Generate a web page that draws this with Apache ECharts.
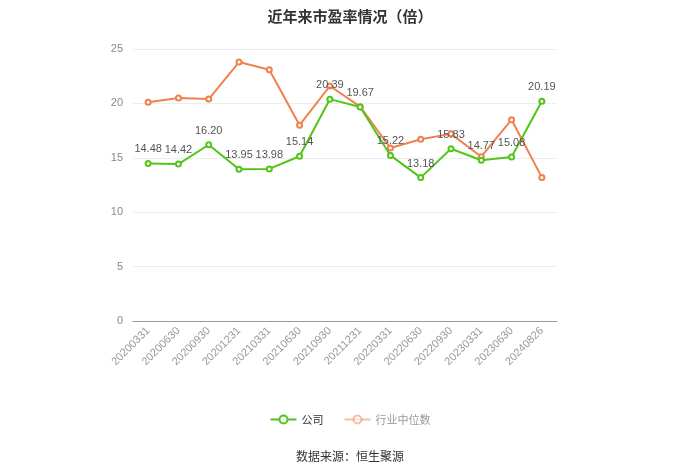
<!DOCTYPE html>
<html><head><meta charset="utf-8">
<script src="https://cdn.jsdelivr.net/npm/echarts@6/dist/echarts.min.js"></script>
<style>html,body{margin:0;padding:0;background:#fff}#c{width:700px;height:474px}</style>
</head><body><div id="c"></div>
<script>
const categories = ['20200331','20200630','20200930','20201231','20210331','20210630','20210930','20211231','20220331','20220630','20220930','20230331','20230630','20240826'];
const companyPE = [14.48,14.42,16.20,13.95,13.98,15.14,20.39,19.67,15.22,13.18,15.83,14.77,15.08,20.19];
const industryPE = [20.1,20.5,20.4,23.8,23.1,18.0,21.6,19.7,15.9,16.7,17.2,15.1,18.5,13.2];
const yTicks = [0,5,10,15,20,25];

const chart = echarts.init(document.getElementById('c'));
chart.setOption({
  animation:false,
  title:{text:'近年来市盈率情况（倍）',left:'center',top:4,textStyle:{fontSize:15,fontWeight:'bold',color:'#333',fontFamily:'Noto Sans CJK SC'}},
  grid:{left:133,right:143,top:49,bottom:153},
  legend:{bottom:44,left:'center',itemWidth:26,itemHeight:10,itemGap:20,textStyle:{fontSize:11,color:'#333',fontFamily:'Noto Sans CJK SC'},
    data:[{name:'公司'},{name:'行业中位数',itemStyle:{opacity:0.5},lineStyle:{opacity:0.5},textStyle:{color:'#999'}}]},
  graphic:[{type:'text',left:'center',top:450,style:{text:'数据来源：恒生聚源',fontSize:12,fill:'#333',fontFamily:'Noto Sans CJK SC'}}],
  xAxis:{type:'category',data:categories,boundaryGap:true,
    axisLine:{lineStyle:{color:'#999'}},axisTick:{alignWithLabel:true,lineStyle:{color:'#999'}},
    axisLabel:{rotate:45,color:'#999',fontSize:11,interval:0,margin:8}},
  yAxis:{type:'value',min:yTicks[0],max:yTicks[yTicks.length-1],interval:5,
    axisLine:{show:false},axisTick:{show:false},
    axisLabel:{color:'#888',fontSize:11,margin:10},
    splitLine:{lineStyle:{color:'#eee'}}},
  series:[
    {name:'公司',type:'line',data:companyPE,symbol:'emptyCircle',symbolSize:5,z:3,
      itemStyle:{color:'#52c41a'},lineStyle:{color:'#52c41a',width:2},
      label:{show:true,position:'top',color:'#555',fontSize:11,formatter:p=>p.value.toFixed(2)}},
    {name:'行业中位数',type:'line',data:industryPE,symbol:'emptyCircle',symbolSize:5,z:2,
      itemStyle:{color:'#f0804f'},lineStyle:{color:'#f0804f',width:2}}
  ]
});
</script></body></html>
